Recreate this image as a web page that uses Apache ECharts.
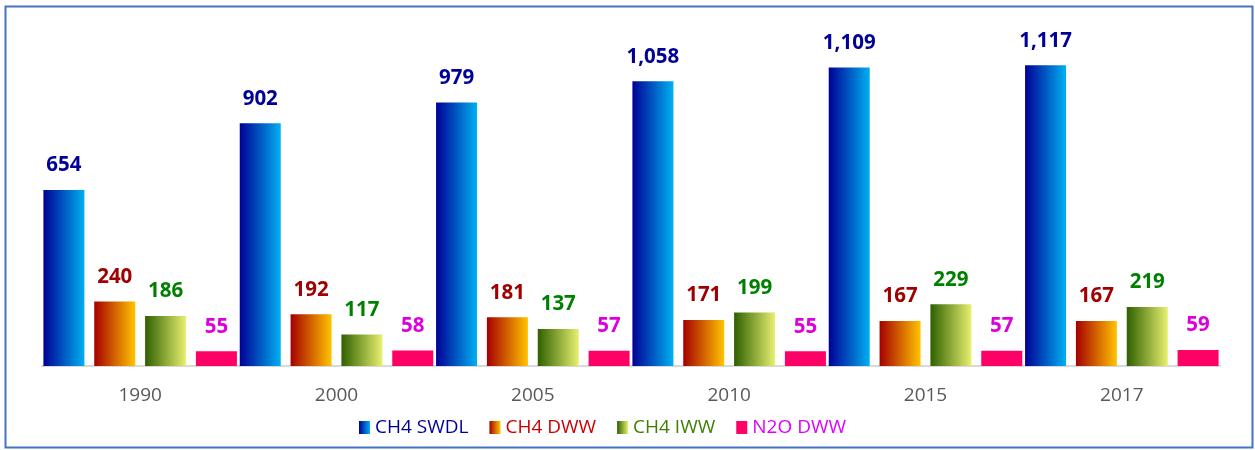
<!DOCTYPE html>
<html>
<head>
<meta charset="utf-8">
<style>
  html, body { margin: 0; padding: 0; background: #fff; }
  #chart { width: 1255px; height: 450px; }
</style>
<script src="https://cdn.jsdelivr.net/npm/echarts@6/dist/echarts.min.js"></script>
</head>
<body>
<div id="chart"></div>
<script>
// Emission categories by year
const years = ['1990', '2000', '2005', '2010', '2015', '2017'];
const ch4Swdl = [654, 902, 979, 1058, 1109, 1117];
const ch4Dww = [240, 192, 181, 171, 167, 167];
const ch4Iww = [186, 117, 137, 199, 229, 219];
const n2oDww = [55, 58, 57, 55, 57, 59];

const seriesNames = ['CH4 SWDL', 'CH4 DWW', 'CH4 IWW', 'N2O DWW'];

function hGrad(a, b) {
  return new echarts.graphic.LinearGradient(0, 0, 1, 0, [
    { offset: 0, color: a },
    { offset: 1, color: b }
  ]);
}

const fills = [
  hGrad('#000096', '#00B0F0'),
  hGrad('#A50000', '#FFC400'),
  hGrad('#2F6000', '#E8F070'),
  '#FF0066'
];
const labelColors = ['#000099', '#A00000', '#008000', '#DD00DD'];
const legendColors = ['#000099', '#CC0000', '#3F7F00', '#DD00FF'];

const fmt = v => v.toLocaleString('en-US');

function makeSeries(name, data, i) {
  return {
    name: name,
    type: 'bar',
    data: data,
    barWidth: 41,
    barGap: '24%',
    itemStyle: { color: fills[i] },
    label: {
      show: true,
      position: 'top',
      distance: 14,
      formatter: p => fmt(p.value),
      color: labelColors[i],
      fontFamily: 'Open Sans',
      fontWeight: 'bold',
      fontSize: 20.5
    }
  };
}

const chart = echarts.init(document.getElementById('chart'), null, { renderer: 'canvas' });
chart.setOption({
  animation: false,
  backgroundColor: '#ffffff',
  graphic: [{
    type: 'rect',
    shape: { x: 5.5, y: 6.5, width: 1247, height: 441 },
    style: { fill: 'none', stroke: '#4472C4', lineWidth: 2 },
    silent: true
  }],
  grid: { left: 42, right: 35, top: 43, bottom: 84, containLabel: false },
  legend: {
    bottom: 8,
    left: 354,
    icon: 'rect',
    itemWidth: 11,
    itemHeight: 13,
    itemGap: 21,
    data: seriesNames.map((n, i) => ({
      name: n,
      textStyle: { color: legendColors[i] }
    })),
    textStyle: { fontFamily: 'Open Sans', fontSize: 19, padding: [0, 0, 0, 0] }
  },
  xAxis: {
    type: 'category',
    data: years,
    axisLine: { show: true, lineStyle: { color: '#D9D9D9', width: 2 } },
    axisTick: { show: false },
    axisLabel: { color: '#595959', fontFamily: 'Open Sans', fontSize: 19, margin: 20 }
  },
  yAxis: {
    type: 'value',
    min: 0,
    max: 1200,
    interval: 200,
    show: false,
    splitLine: { show: false }
  },
  series: [
    makeSeries(seriesNames[0], ch4Swdl, 0),
    makeSeries(seriesNames[1], ch4Dww, 1),
    makeSeries(seriesNames[2], ch4Iww, 2),
    makeSeries(seriesNames[3], n2oDww, 3)
  ]
});
</script>
</body>
</html>
